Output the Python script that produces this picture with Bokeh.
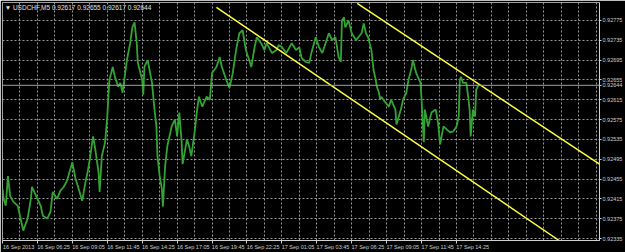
from bokeh.plotting import figure
from bokeh.models import FixedTicker, Label, Span, Range1d, PrintfTickFormatter, AllLabels
from bokeh.embed import file_html
from bokeh.resources import INLINE

# time in minutes since 16 Sep 2013 03:45 (M5 bars)
minutes = [0, 5, 15, 25, 35, 50, 70, 80, 90, 95, 115, 130, 135, 160, 175, 185, 205, 220, 230, 250,
           265, 280, 295, 320, 335, 345, 365, 380, 390, 400, 415, 425, 440, 445, 455, 470, 480, 485, 490, 505,
           515, 530, 540, 550, 570, 585, 595, 605, 615, 620, 640, 645, 650, 665, 685, 695, 705, 710, 720, 730,
           735, 745, 755, 775, 790, 800, 810, 820, 825, 845, 855, 865, 880, 890, 900, 915, 935, 950, 960, 980,
           995, 1005, 1025, 1040, 1055, 1070, 1085, 1100, 1115, 1130, 1140, 1155, 1165, 1185, 1200, 1210, 1235, 1255, 1265, 1280,
           1300, 1315, 1325, 1345, 1360, 1370, 1390, 1405, 1415, 1435, 1450, 1465, 1480, 1495, 1510, 1525, 1540, 1550, 1555, 1565,
           1570, 1585, 1600, 1620, 1630, 1645, 1655, 1665, 1675, 1690, 1700, 1710, 1715, 1725, 1730, 1735, 1755, 1770, 1780, 1800,
           1805, 1825, 1835, 1850, 1860, 1875, 1880, 1895, 1915, 1920, 1930, 1935, 1950, 1965, 1985, 1995, 2005, 2020, 2035, 2050,
           2065, 2080, 2090, 2095, 2100, 2110, 2125, 2135, 2140, 2145, 2155, 2165, 2170, 2180]
prices = [0.92435, 0.92415, 0.92401, 0.92461, 0.92421, 0.92409, 0.92401, 0.92381, 0.92361, 0.92351,
          0.92375, 0.92415, 0.92439, 0.92415, 0.92401, 0.92381, 0.92375, 0.92389, 0.92429, 0.92415,
          0.92431, 0.92439, 0.92451, 0.92489, 0.92455, 0.92441, 0.92411, 0.92449, 0.92469, 0.92495,
          0.92541, 0.92515, 0.92469, 0.92429, 0.92501, 0.92529, 0.92581, 0.92621, 0.92655, 0.92681,
          0.92661, 0.92641, 0.92649, 0.92629, 0.92695, 0.92729, 0.92761, 0.92771, 0.92729, 0.92689,
          0.92655, 0.92625, 0.92681, 0.92695, 0.92649, 0.92601, 0.92561, 0.92501, 0.92461, 0.92435,
          0.92399, 0.92481, 0.92521, 0.92561, 0.92575, 0.92541, 0.92589, 0.92535, 0.92485, 0.92535,
          0.92521, 0.92501, 0.92549, 0.92589, 0.92621, 0.92601, 0.92621, 0.92615, 0.92669, 0.92681,
          0.92701, 0.92681, 0.92655, 0.92639, 0.92669, 0.92715, 0.92749, 0.92755, 0.92715, 0.92695,
          0.92681, 0.92721, 0.92741, 0.92729, 0.92715, 0.92729, 0.92709, 0.92715, 0.92725, 0.92721,
          0.92709, 0.92721, 0.92729, 0.92715, 0.92721, 0.92699, 0.92691, 0.92689, 0.92709, 0.92741,
          0.92721, 0.92709, 0.92729, 0.92749, 0.92735, 0.92741, 0.92701, 0.92691, 0.92775, 0.92781,
          0.92761, 0.92775, 0.92749, 0.92735, 0.92741, 0.92749, 0.92769, 0.92749, 0.92741, 0.92715,
          0.92675, 0.92655, 0.92641, 0.92629, 0.92615, 0.92621, 0.92609, 0.92601, 0.92615, 0.92595,
          0.92565, 0.92595, 0.92615, 0.92629, 0.92655, 0.92681, 0.92695, 0.92669, 0.92649, 0.92615,
          0.92529, 0.92595, 0.92561, 0.92589, 0.92595, 0.92569, 0.92525, 0.92561, 0.92555, 0.92549,
          0.92551, 0.92561, 0.92581, 0.92655, 0.92661, 0.92649, 0.92649, 0.92615, 0.92595, 0.92541,
          0.92595, 0.92581, 0.92635, 0.92644]

# channel lines (minute, price)
upper_x = [1625, 2735]
upper_y = [0.92809, 0.92485]
lower_x = [980, 2550]
lower_y = [0.92801, 0.92331]

x_tick_minutes = [0, 160, 320, 480, 640, 800, 960, 1120, 1280, 1440, 1600, 1760, 1920, 2080]
x_tick_labels = ["16 Sep 2013", "16 Sep 06:25", "16 Sep 09:05", "16 Sep 11:45", "16 Sep 14:25",
                 "16 Sep 17:05", "16 Sep 19:45", "16 Sep 22:25", "17 Sep 01:05", "17 Sep 03:45",
                 "17 Sep 06:25", "17 Sep 09:05", "17 Sep 11:45", "17 Sep 14:25"]
price_ticks = [0.92335, 0.92375, 0.92415, 0.92455, 0.92495, 0.92535, 0.92575,
               0.92615, 0.92655, 0.92695, 0.92735, 0.92775]
last_price = 0.92644
header = "\u25bc USDCHF,M5  0.92617 0.92655 0.92617 0.92644"

FONT = "Liberation Sans"
AX = "#d0d0d0"
Y0, Y1 = 0.92331, 0.92811
LABEL_SHIFT = 74  # minutes: half a label's width, so MetaTrader-style labels start at their tick

p = figure(width=625, height=252, output_backend="svg", toolbar_location=None,
           x_range=Range1d(0, 2735), y_range=Range1d(Y0, Y1),
           y_axis_location="right", min_border_left=2, min_border_top=2,
           min_border_right=23, min_border_bottom=10)
p.background_fill_color = "black"
p.border_fill_color = "black"
p.outline_line_color = "#a0a0a0"

for ax in (p.xaxis[0], p.yaxis[0]):
    ax.axis_line_color = AX
    ax.major_tick_line_color = AX
    ax.minor_tick_line_color = None
    ax.major_tick_in = 0
    ax.major_tick_out = 2
    ax.major_label_text_color = AX
    ax.major_label_text_font = FONT
    ax.major_label_text_font_size = "5.5px"
    ax.major_label_standoff = 1
    ax.major_label_policy = AllLabels()

# time axis: tick marks at the true times (minor ticks), labels placed to start at them
label_pos = [m + LABEL_SHIFT for m in x_tick_minutes]
p.xaxis.ticker = FixedTicker(ticks=label_pos, minor_ticks=x_tick_minutes)
p.xaxis.major_label_overrides = {m: l for m, l in zip(label_pos, x_tick_labels)}
p.xaxis.major_tick_line_color = None
p.xaxis.major_tick_out = 0
p.xaxis.minor_tick_line_color = AX
p.xaxis.minor_tick_in = 0
p.xaxis.minor_tick_out = 3
p.xaxis.major_label_standoff = 0

# price axis, with the current price among its ticks
p.yaxis.ticker = FixedTicker(ticks=sorted(price_ticks + [last_price]))
p.yaxis.formatter = PrintfTickFormatter(format="%.5f")

p.xgrid.ticker = FixedTicker(ticks=list(range(0, 2736, 80)))
p.ygrid.ticker = FixedTicker(ticks=price_ticks)
for g in (p.xgrid[0], p.ygrid[0]):
    g.grid_line_color = "#9a9a9a"
    g.grid_line_dash = "2 2"
    g.grid_line_width = 1

p.add_layout(Span(location=last_price, dimension="width", line_color="#a0a0a0", line_width=1))

p.line(minutes, prices, line_color="#33a333", line_width=1.8)
p.line(upper_x, upper_y, line_color="#ffff44", line_width=1.5)
p.line(lower_x, lower_y, line_color="#ffff44", line_width=1.5)

p.add_layout(Label(x=10, y=0.92801, text=header, text_color="#e0e0e0", text_font=FONT,
                   text_font_size="6.5px", text_baseline="middle"))

open("out.html", "w").write(file_html(p, INLINE))
